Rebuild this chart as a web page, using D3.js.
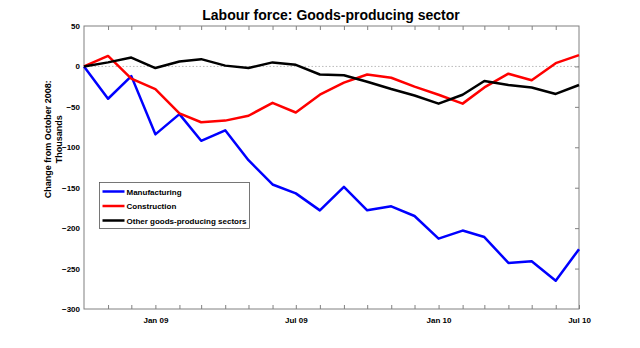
<!DOCTYPE html>
<html>
<head>
<meta charset="utf-8">
<script src="https://cdn.jsdelivr.net/npm/d3@7"></script>
<style>
  body { margin: 0; background: #fff; }
  text { font-family: "Liberation Sans", Arial, sans-serif; }
</style>
</head>
<body>
<div id="chart"></div>
<script>
// monthly, Oct 2008 .. Jul 2010
const months = d3.range(22).map(i => new Date(2008, 9 + i, 1));
const manufacturing = [0, -40, -12, -84, -59, -92, -79, -116, -146, -157, -178, -149, -178, -173, -185, -213, -203, -211, -243, -241, -265, -226];
const construction = [0, 13, -15, -28, -58, -69, -67, -61, -45, -57, -35, -20, -10, -14, -25, -35, -46, -26, -9, -17, 4, 14];
const other = [0, 5, 11, -2, 6, 9, 1, -2, 5, 2, -10, -11, -19, -28, -36, -46, -35, -18, -23, -26, -34, -23];
const seriesNames = ["Manufacturing", "Construction", "Other goods-producing sectors"];
const seriesColors = ["#0000ff", "#ff0000", "#000000"];
const yTicks = [50, 0, -50, -100, -150, -200, -250, -300];
const xLabels = [[new Date(2009, 0, 1), "Jan 09"], [new Date(2009, 6, 1), "Jul 09"], [new Date(2010, 0, 1), "Jan 10"], [new Date(2010, 6, 1), "Jul 10"]];

const W = 640, H = 348;
const margin = { top: 26, right: 61, bottom: 39, left: 84 };
const width = W - margin.left - margin.right;
const height = H - margin.top - margin.bottom;

const svg = d3.select("#chart").append("svg")
  .attr("width", W).attr("height", H);
const g = svg.append("g").attr("transform", `translate(${margin.left},${margin.top})`);

const x = d3.scaleTime().domain([months[0], months[months.length - 1]]).range([0, width]);
const y = d3.scaleLinear().domain([-300, 50]).range([height, 0]);

// zero line
g.append("line")
  .attr("x1", 0).attr("x2", width)
  .attr("y1", y(0)).attr("y2", y(0))
  .attr("stroke", "#aaa").attr("stroke-width", 0.8)
  .attr("stroke-dasharray", "1.5,2");

const axisColor = "#808080";
function styleAxis(sel) {
  sel.select(".domain").remove();
  sel.selectAll(".tick line").attr("stroke", axisColor);
  sel.selectAll(".tick text").attr("fill", "#000").attr("font-size", "8px").attr("font-weight", "bold");
}

// bottom axis: ticks every month, labels on Jan/Jul
const labelMap = new Map(xLabels.map(d => [+d[0], d[1]]));
g.append("g").attr("transform", `translate(0,${height})`)
  .call(d3.axisBottom(x).tickValues(months.slice(1)).tickSize(-4).tickPadding(8)
    .tickFormat(d => labelMap.get(+d) || ""))
  .call(styleAxis);
g.append("g")
  .call(d3.axisTop(x).tickValues(months.slice(1, -1)).tickSize(-4).tickFormat(""))
  .call(styleAxis);

g.append("g")
  .call(d3.axisLeft(y).tickValues(yTicks).tickSize(0).tickPadding(4))
  .call(styleAxis);
g.append("g").attr("transform", `translate(${width},0)`)
  .call(d3.axisRight(y).tickValues(yTicks.slice(1, -1)).tickSize(-4).tickFormat(""))
  .call(styleAxis);

// frame
g.append("rect")
  .attr("width", width).attr("height", height)
  .attr("fill", "none").attr("stroke", axisColor).attr("stroke-width", 1);

const line = d3.line().x((d, i) => x(months[i])).y(d => y(d));
[manufacturing, construction, other].forEach((s, k) => {
  g.append("path")
    .datum(s)
    .attr("fill", "none")
    .attr("stroke", seriesColors[k])
    .attr("stroke-width", 2.5)
    .attr("stroke-linejoin", "round")
    .attr("d", line);
});

// title
svg.append("text")
  .attr("x", 331).attr("y", 20)
  .attr("text-anchor", "middle")
  .attr("font-size", "14px").attr("font-weight", "bold")
  .text("Labour force: Goods-producing sector");

// y label
const yl = svg.append("text")
  .attr("transform", `translate(51,${margin.top + y(-90)}) rotate(-90)`)
  .attr("text-anchor", "middle")
  .attr("font-size", "9px").attr("font-weight", "bold");
yl.append("tspan").attr("x", 0).attr("dy", 0).text("Change from October 2008:");
yl.append("tspan").attr("x", 0).attr("dy", 11).text("Thousands");

// legend
const legend = svg.append("g").attr("transform", "translate(99.5,182.5)");
legend.append("rect")
  .attr("width", 150).attr("height", 46)
  .attr("fill", "#fff").attr("stroke", "#555").attr("stroke-width", 0.8);
seriesNames.forEach((name, k) => {
  const row = legend.append("g").attr("transform", `translate(0,${9 + k * 14.5})`);
  row.append("line").attr("x1", 3).attr("x2", 25).attr("y1", 0).attr("y2", 0)
    .attr("stroke", seriesColors[k]).attr("stroke-width", 2.5);
  row.append("text").attr("x", 27).attr("y", 3)
    .attr("font-size", "8px").attr("font-weight", "bold")
    .text(name);
});
</script>
</body>
</html>
